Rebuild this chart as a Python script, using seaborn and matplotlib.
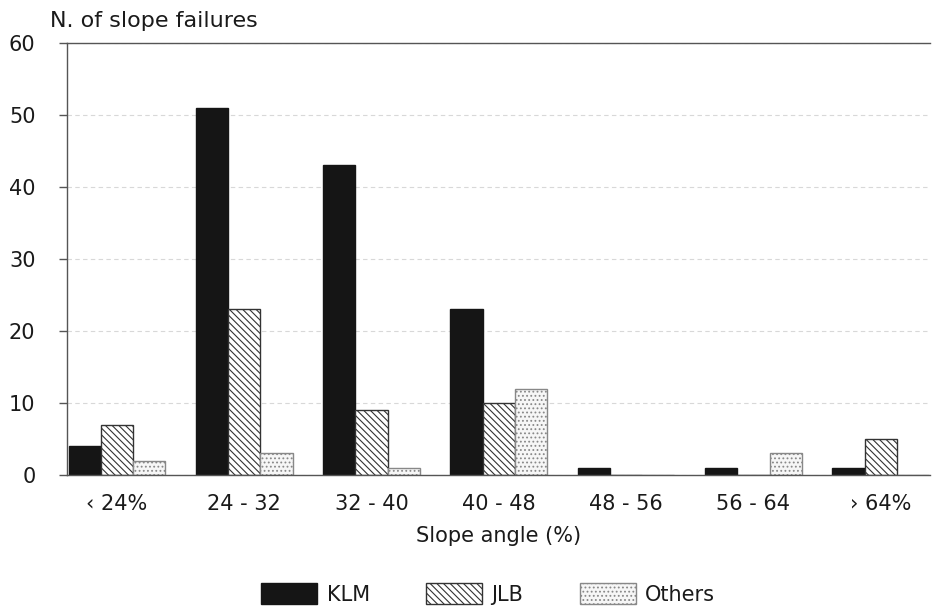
import pandas as pd
import seaborn as sns
import matplotlib.pyplot as plt
from matplotlib.patches import Patch

# slope angle classes and counts per lithology
categories = ['\u2039 24%', '24 - 32', '32 - 40', '40 - 48', '48 - 56', '56 - 64', '\u203a 64%']
klm = [4, 51, 43, 23, 1, 1, 1]
jlb = [7, 23, 9, 10, 0, 0, 5]
others = [2, 3, 1, 12, 0, 3, 0]
groups = ['KLM', 'JLB', 'Others']

df = pd.DataFrame({'Slope': categories, 'KLM': klm, 'JLB': jlb, 'Others': others})
df_long = pd.melt(df, id_vars='Slope', var_name='Group', value_name='Count')

sns.set_style('white')
plt.rcParams['font.family'] = ['DejaVu Sans']
plt.rcParams['hatch.linewidth'] = 0.8
plt.rcParams['text.color'] = '#1a1a1a'
plt.rcParams['xtick.color'] = '#1a1a1a'
plt.rcParams['ytick.color'] = '#1a1a1a'
plt.rcParams['axes.labelcolor'] = '#1a1a1a'

fig = plt.figure(figsize=(9.35, 6.13), dpi=100)
ax = fig.add_axes([0.072, 0.225, 0.923, 0.705])

sns.barplot(data=df_long, x='Slope', y='Count', hue='Group', hue_order=groups,
            order=categories, width=0.76, gap=0, ax=ax, legend=False,
            palette=['#151515', 'white', '#f4f4f4'], saturation=1,
            edgecolor='#222222', linewidth=1.0)

styles = {
    'KLM': dict(facecolor='#151515', hatch=None, edgecolor='#151515'),
    'JLB': dict(facecolor='white', hatch='\\\\\\\\\\', edgecolor='#333333'),
    'Others': dict(facecolor='#f6f6f6', hatch='....', edgecolor='#888888'),
}
n = len(categories)
for i, p in enumerate(ax.patches[:3 * n]):
    st = styles[groups[i // n]]
    p.set_facecolor(st['facecolor'])
    p.set_edgecolor(st['edgecolor'])
    if st['hatch']:
        p.set_hatch(st['hatch'])

ax.set_xlim(-0.39, n - 1 + 0.39)
ax.set_ylim(0, 60)
ax.set_yticks(range(0, 61, 10))
ax.yaxis.grid(True, linestyle=(0, (4, 3)), color='#d8d8d8', linewidth=0.8)
ax.set_axisbelow(True)
ax.spines['right'].set_visible(False)
for s in ['left', 'top', 'bottom']:
    ax.spines[s].set_color('#555555')
    ax.spines[s].set_linewidth(1.0)
ax.tick_params(axis='y', left=True, length=6, width=1, color='#555555', labelsize=15, pad=17)
ax.tick_params(axis='x', bottom=False, labelsize=15, pad=10)
ax.set_xlabel('Slope angle (%)', fontsize=15, labelpad=9)
ax.set_ylabel('')

fig.text(0.053, 0.965, 'N. of slope failures', fontsize=16, ha='left', va='center')

handles = [Patch(facecolor=styles[g]['facecolor'], edgecolor=styles[g]['edgecolor'],
                 hatch=styles[g]['hatch']) for g in groups]
fig.legend(handles, groups, loc='center', bbox_to_anchor=(0.522, 0.031), ncol=3,
           frameon=False, fontsize=15, handlelength=2.7, handleheight=1.2,
           columnspacing=2.7, handletextpad=0.45)

fig.savefig('out.png', dpi=100)
